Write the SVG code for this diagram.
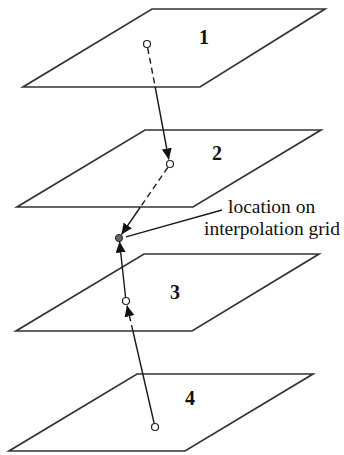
<svg xmlns="http://www.w3.org/2000/svg" width="344" height="455" viewBox="0 0 344 455">
<style>
.plane{fill:none;stroke:#333;stroke-width:1.7;stroke-linejoin:miter}
.ln{fill:none;stroke:#1a1a1a;stroke-width:1.4}
.dash{stroke-dasharray:6 4}
.pt{fill:#fff;stroke:#222;stroke-width:1.2}
.num{font-family:"Liberation Serif","Times New Roman",serif;font-weight:bold;font-size:20px;fill:#111}
.lbl{font-family:"Liberation Serif","Times New Roman",serif;font-size:19.5px;fill:#111}
</style>
<defs>
<marker id="ah" markerUnits="userSpaceOnUse" markerWidth="12" markerHeight="11" refX="11" refY="5" orient="auto">
<path d="M0,0 L11,5 L0,10 Z" fill="#111"/>
</marker>
</defs>
<rect width="344" height="455" fill="#fff"/>
<g id="plane1"><polygon class="plane" points="152,9 325,9 200,87 23,87"/><text class="num" x="199" y="44">1</text></g>
<g id="plane2"><polygon class="plane" points="145,130 321,130 193,207 17,207"/><text class="num" x="212" y="160">2</text></g>
<g id="plane3"><polygon class="plane" points="144,254 319,254 192,331 16,331"/><text class="num" x="170" y="299">3</text></g>
<g id="plane4"><polygon class="plane" points="137,374 313,374 185,451 9,451"/><text class="num" x="185" y="405">4</text></g>
<g id="connectors">
<line class="ln dash" x1="147.7" y1="48" x2="155.2" y2="87"/>
<line class="ln" x1="155.2" y1="87" x2="168.8" y2="159.5" marker-end="url(#ah)"/>
<line class="ln dash" x1="167.8" y1="167.5" x2="140.4" y2="207"/>
<line class="ln" x1="140.4" y1="207" x2="121.5" y2="234.5" marker-end="url(#ah)"/>
<line class="ln" x1="125.6" y1="297.5" x2="119.5" y2="241.5" marker-end="url(#ah)"/>
<line class="ln" x1="154.2" y1="423.5" x2="132.9" y2="331"/>
<line class="ln dash" x1="132.9" y1="331" x2="127" y2="305.5" marker-end="url(#ah)"/>
<line class="ln" x1="126" y1="236.8" x2="222" y2="210"/>
</g>
<g id="points">
<circle class="pt" cx="147" cy="44" r="3.5"/>
<circle class="pt" cx="170" cy="164" r="3.5"/>
<circle class="pt" cx="126" cy="301" r="3.5"/>
<circle class="pt" cx="155" cy="427" r="3.5"/>
<circle id="grid" cx="119" cy="238" r="3.6" fill="#666" stroke="#222" stroke-width="1"/>
</g>
<g id="label">
<text class="lbl" x="228" y="213">location on</text>
<text class="lbl" x="204" y="235">interpolation grid</text>
</g>
</svg>
